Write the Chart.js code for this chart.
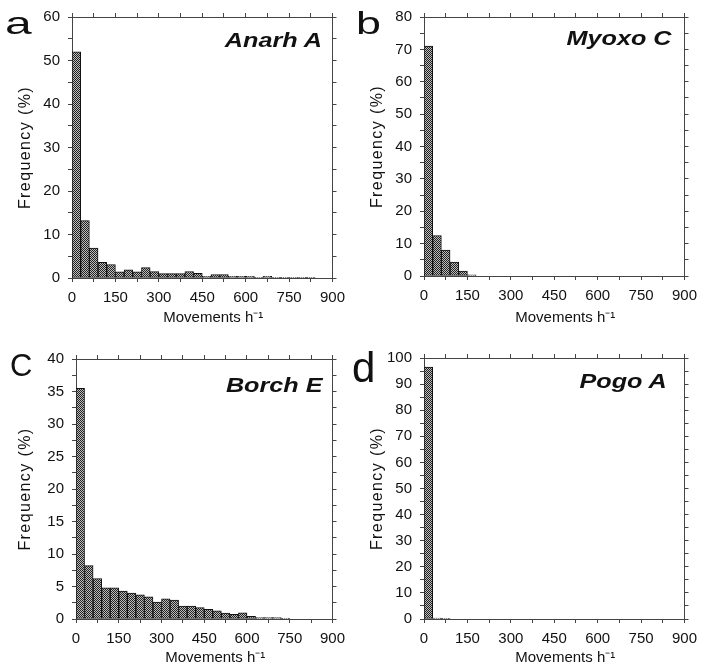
<!DOCTYPE html>
<html>
<head>
<meta charset="utf-8">
<script src="https://cdn.jsdelivr.net/npm/chart.js@4.4.1/dist/chart.umd.min.js"></script>
<style>
body { margin: 0; background: #fff; }
#wrap { position: relative; width: 704px; height: 670px; overflow: hidden; font-family: "Liberation Sans", Arial, sans-serif; color: #111; }
.panel { position: absolute; }
.letter { position: absolute; line-height: 1; transform-origin: left center; }
.name { position: absolute; font-weight: bold; font-style: italic; font-size: 21px; line-height: 1; white-space: nowrap; transform-origin: right center; transform: scaleX(1.2); }
</style>
</head>
<body>
<div id="wrap">
  <div class="panel" style="left:0;top:0;width:352px;height:330px"><canvas id="chartA"></canvas></div>
  <div class="panel" style="left:352px;top:0;width:352px;height:330px"><canvas id="chartB"></canvas></div>
  <div class="panel" style="left:0;top:330px;width:352px;height:340px"><canvas id="chartC"></canvas></div>
  <div class="panel" style="left:352px;top:330px;width:352px;height:340px"><canvas id="chartD"></canvas></div>

  <div class="letter" style="left:5px;top:7px;font-size:32px;transform:scaleX(1.5)">a</div>
  <div class="letter" style="left:356px;top:7px;font-size:32px;transform:scaleX(1.4)">b</div>
  <div class="letter" style="left:10px;top:350px;font-size:31px">C</div>
  <div class="letter" style="left:352px;top:347px;font-size:42px">d</div>

  <div class="name" style="right:382px;top:29px">Anarh A</div>
  <div class="name" style="right:32px;top:27px">Myoxo C</div>
  <div class="name" style="right:381px;top:374px">Borch E</div>
  <div class="name" style="right:37px;top:370px">Pogo A</div>
</div>
<script>
// bins of 30 movements/h, centres 15 ... 885
var binCentres = [15,45,75,105,135,165,195,225,255,285,315,345,375,405,435,465,495,525,555,585,615,645,675,705,735,765,795,825,855,885];

// frequency (%) per bin
var anarhA = [52,13.2,6.9,3.6,3.1,1.4,1.9,1.4,2.4,1.45,1.0,1.0,1.0,1.5,1.1,0.4,0.8,0.8,0.4,0.4,0.4,0.1,0.4,0.15,0.15,0.15,0.15,0.15,0,0];
var myoxoC = [71,12.5,8,4.3,1.5,0.4,0,0,0,0,0,0,0,0,0,0,0,0,0,0,0,0,0,0,0,0,0,0,0,0];
var borchE = [35.5,8.2,6.2,4.8,4.8,4.3,4.0,3.7,3.4,2.6,3.1,2.9,2.0,2.0,1.75,1.5,1.25,0.9,0.7,0.95,0.4,0.2,0.2,0.2,0.1,0,0,0,0,0];
var pogoA  = [96.5,0.4,0.3,0,0,0,0,0,0,0,0,0,0,0,0,0,0,0,0,0,0,0,0,0,0,0,0,0,0,0];

var xMax = 900;
var xLabelStep = 150;

// dithered grey fill like the printed bars
function makeHatch() {
	var c = document.createElement('canvas');
	c.width = 2; c.height = 2;
	var g = c.getContext('2d');
	g.fillStyle = '#bdbdbd';
	g.fillRect(0, 0, 2, 2);
	g.fillStyle = '#222';
	g.fillRect(0, 0, 1, 1);
	g.fillRect(1, 1, 1, 1);
	return g.createPattern(c, 'repeat');
}
var hatch = makeHatch();

// letter spacing / shift for axis titles
var titlePatch = {
	id: 'titlePatch',
	afterLayout: function(chart, args, opts) {
		['x', 'y'].forEach(function(id) {
			var s = chart.scales[id];
			if (!s || s._patched) return;
			var o = opts[id] || {};
			var orig = s.drawTitle;
			s.drawTitle = function() {
				this.ctx.save();
				this.ctx.letterSpacing = (o.spacing || 0) + 'px';
				this.ctx.translate(o.dx || 0, 0);
				orig.call(this);
				this.ctx.restore();
			};
			s._patched = true;
		});
	}
};

var lineCol = '#444';
var tickFont = { family: '"Liberation Sans", Arial, sans-serif', size: 15 };

function makeChart(canvasId, values, yMax, yMinor, yLabelStep, w, h, area) {
	var cv = document.getElementById(canvasId);
	cv.width = w; cv.height = h;
	cv.style.width = w + 'px'; cv.style.height = h + 'px';

	var pts = [];
	for (var i = 0; i < binCentres.length; i++) {
		pts.push({ x: binCentres[i], y: values[i] });
	}

	var frameGrid = { drawOnChartArea: false, drawTicks: true, tickLength: 4, color: lineCol, offset: false };
	var frameBorder = { display: true, color: lineCol, width: 1 };

	return new Chart(cv, {
		type: 'bar',
		data: {
			datasets: [{
				data: pts,
				backgroundColor: hatch,
				borderColor: '#111',
				borderWidth: 1,
				borderSkipped: false,
				barPercentage: 1.0,
				categoryPercentage: 1.0
			}]
		},
		options: {
			responsive: false,
			animation: false,
			layout: { padding: 0 },
			plugins: {
				legend: { display: false },
				tooltip: { enabled: false },
				titlePatch: { x: { dx: 11, spacing: 0 }, y: { dx: 0, spacing: 1.4 } }
			},
			scales: {
				x: {
					type: 'linear', position: 'bottom', min: 0, max: xMax, offset: false,
					grid: frameGrid, border: frameBorder,
					ticks: {
						stepSize: xLabelStep / 2, autoSkip: false, maxRotation: 0, padding: 7,
						color: '#111', font: tickFont,
						callback: function(v) { return v % xLabelStep === 0 ? v : ''; }
					},
					title: { display: true, text: 'Movements h⁻¹', color: '#111', font: { family: tickFont.family, size: 15 }, padding: { top: 0, bottom: 3 } },
					afterFit: function(s) { s.height = h - area[3]; }
				},
				xTop: {
					type: 'linear', position: 'top', min: 0, max: xMax, offset: false,
					grid: frameGrid, border: frameBorder,
					ticks: { display: false, stepSize: xLabelStep / 2 },
					afterFit: function(s) { s.height = area[2]; }
				},
				y: {
					type: 'linear', position: 'left', min: 0, max: yMax,
					grid: frameGrid, border: frameBorder,
					ticks: {
						stepSize: yMinor, autoSkip: false, padding: 8,
						color: '#111', font: tickFont,
						callback: function(v) { return v % yLabelStep === 0 ? v : ''; }
					},
					title: { display: true, text: 'Frequency (%)', color: '#111', font: { family: tickFont.family, size: 16 }, padding: { top: 16, bottom: 0 } },
					afterFit: function(s) { s.width = area[0]; }
				},
				yRight: {
					type: 'linear', position: 'right', min: 0, max: yMax,
					grid: frameGrid, border: frameBorder,
					ticks: { display: false, stepSize: yMinor },
					afterFit: function(s) { s.width = w - area[1]; }
				}
			}
		},
		plugins: [titlePatch]
	});
}

// area = [left, right, top, bottom] of the plot frame inside each canvas
makeChart('chartA', anarhA, 60, 5, 10, 352, 330, [72, 335, 16, 278]);
makeChart('chartB', myoxoC, 80, 5, 10, 352, 330, [72, 333, 15, 276]);
makeChart('chartC', borchE, 40, 2.5, 5, 352, 340, [76, 339, 29, 289]);
makeChart('chartD', pogoA, 100, 5, 10, 352, 340, [72, 333, 28, 289]);
</script>
</body>
</html>
